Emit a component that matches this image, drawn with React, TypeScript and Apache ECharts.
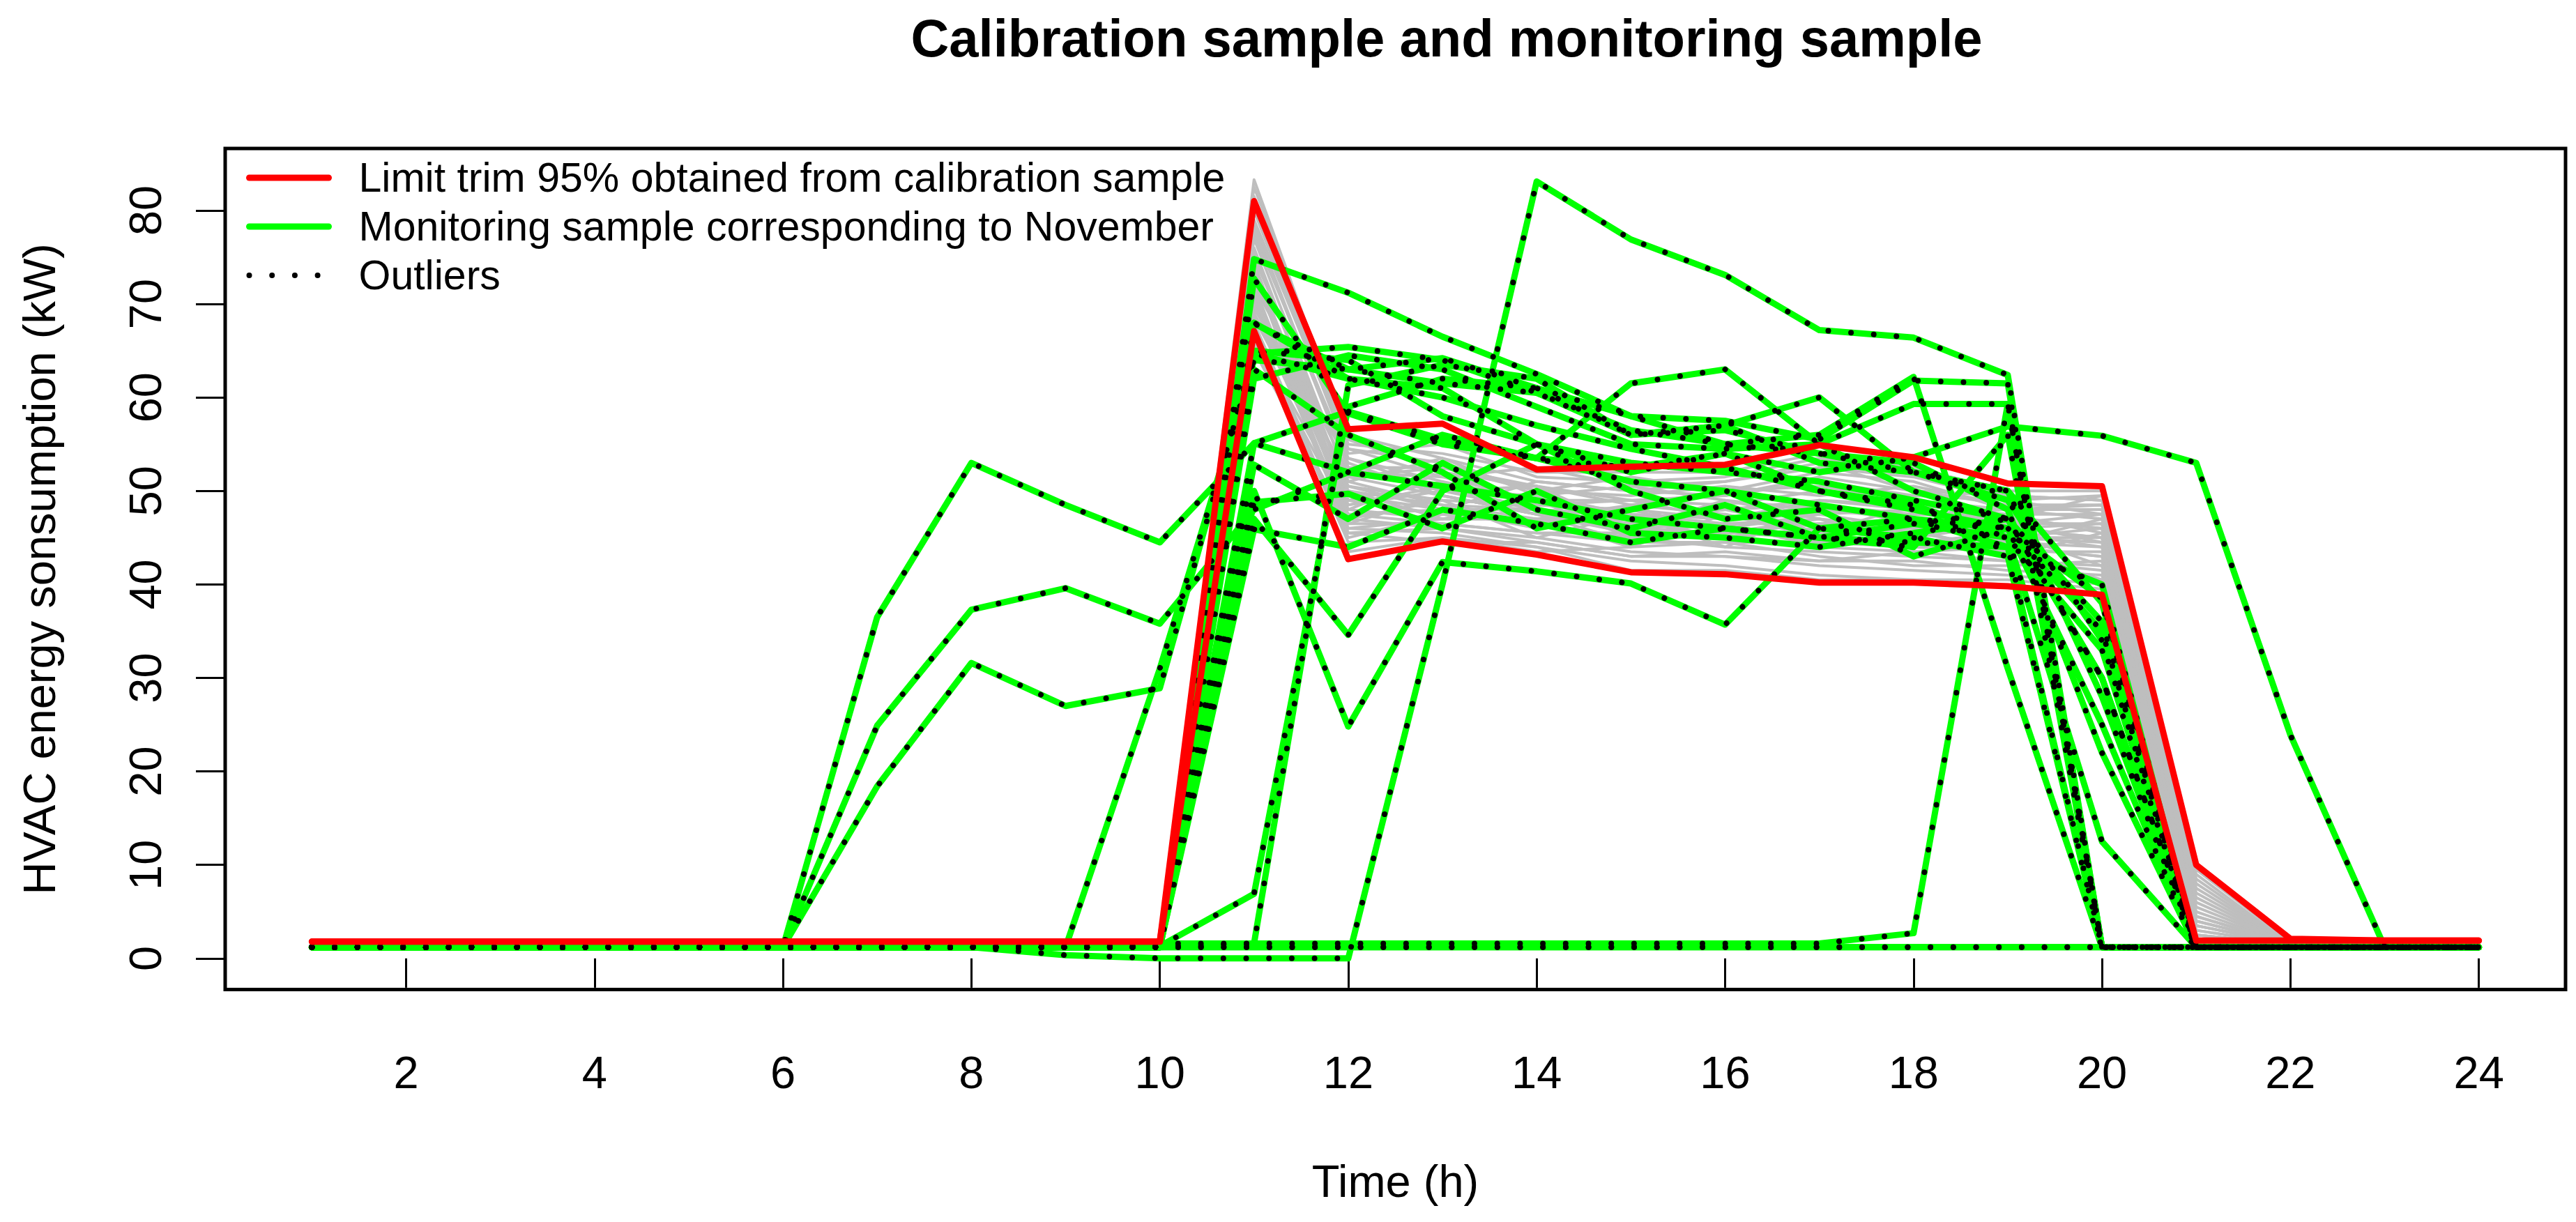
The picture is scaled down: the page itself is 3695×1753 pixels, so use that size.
import React, { useEffect, useRef } from "react";
import * as echarts from "echarts";

// ---------- texts ----------
const titleText = "Calibration sample and monitoring sample";
const xAxisTitle = "Time (h)";
const yAxisTitle = "HVAC energy sonsumption (kW)";
const legendLimit = "Limit trim 95% obtained from calibration sample";
const legendMonitoring = "Monitoring sample corresponding to November";
const legendOutliers = "Outliers";
const calibrationName = "Calibration sample";

// ---------- axes ----------
const hours = [1, 2, 3, 4, 5, 6, 7, 8, 9, 10, 11, 12, 13, 14, 15, 16, 17, 18, 19, 20, 21, 22, 23, 24];
const xTickValues = [2, 4, 6, 8, 10, 12, 14, 16, 18, 20, 22, 24];
const yTickValues = [0, 10, 20, 30, 40, 50, 60, 70, 80];

// ---------- limits (red) ----------
const limitUpper = [1.8, 1.8, 1.8, 1.8, 1.8, 1.8, 1.8, 1.8, 1.8, 1.8, 81.0, 56.6, 57.2, 52.3, 52.6, 52.8, 54.9, 53.6, 50.8, 50.5, 10.0, 2.1, 1.9, 1.9];
const limitLower = [1.8, 1.8, 1.8, 1.8, 1.8, 1.8, 1.8, 1.8, 1.8, 1.8, 67.1, 42.7, 44.6, 43.2, 41.3, 41.1, 40.2, 40.2, 39.8, 38.9, 1.9, 1.9, 1.9, 1.9];

// ---------- calibration sample (gray) ----------
const calib01 = [1.5, 1.5, 1.5, 1.5, 1.5, 1.5, 1.5, 1.5, 1.5, 1.5, 83.3, 55.5, 52.0, 50.5, 49.0, 48.5, 50.0, 49.0, 47.0, 46.0, 3.0, 1.5, 1.5, 1.5];
const calib02 = [1.5, 1.5, 1.5, 1.5, 1.5, 1.5, 1.5, 1.5, 1.5, 1.5, 80.0, 54.0, 55.0, 51.5, 51.0, 51.5, 53.5, 52.0, 49.5, 49.0, 8.5, 1.5, 1.5, 1.5];
const calib03 = [1.5, 1.5, 1.5, 1.5, 1.5, 1.5, 1.5, 1.5, 1.5, 1.5, 78.5, 52.5, 50.0, 48.0, 47.5, 46.5, 47.0, 46.0, 45.0, 44.5, 2.0, 1.5, 1.5, 1.5];
const calib04 = [1.5, 1.5, 1.5, 1.5, 1.5, 1.5, 1.5, 1.5, 1.5, 1.5, 77.0, 51.0, 53.5, 49.5, 50.5, 49.0, 48.0, 47.5, 48.0, 47.0, 5.0, 1.5, 1.5, 1.5];
const calib05 = [1.5, 1.5, 1.5, 1.5, 1.5, 1.5, 1.5, 1.5, 1.5, 1.5, 75.5, 50.0, 48.5, 47.0, 46.0, 45.5, 46.5, 45.5, 44.0, 43.0, 1.5, 1.5, 1.5, 1.5];
const calib06 = [1.5, 1.5, 1.5, 1.5, 1.5, 1.5, 1.5, 1.5, 1.5, 1.5, 74.0, 49.0, 51.0, 46.0, 48.5, 47.5, 45.0, 44.0, 46.0, 45.0, 2.5, 1.5, 1.5, 1.5];
const calib07 = [1.5, 1.5, 1.5, 1.5, 1.5, 1.5, 1.5, 1.5, 1.5, 1.5, 73.0, 48.0, 47.0, 49.0, 45.0, 44.0, 43.5, 43.0, 42.5, 41.5, 1.5, 1.5, 1.5, 1.5];
const calib08 = [1.5, 1.5, 1.5, 1.5, 1.5, 1.5, 1.5, 1.5, 1.5, 1.5, 72.0, 53.0, 49.5, 47.5, 44.5, 46.0, 44.5, 45.0, 43.5, 40.5, 1.8, 1.5, 1.5, 1.5];
const calib09 = [1.5, 1.5, 1.5, 1.5, 1.5, 1.5, 1.5, 1.5, 1.5, 1.5, 71.0, 47.0, 46.0, 45.0, 43.5, 43.0, 42.0, 41.5, 41.0, 40.0, 1.5, 1.5, 1.5, 1.5];
const calib10 = [1.5, 1.5, 1.5, 1.5, 1.5, 1.5, 1.5, 1.5, 1.5, 1.5, 70.5, 46.0, 45.5, 44.0, 42.5, 42.0, 41.0, 40.5, 40.5, 39.5, 1.5, 1.5, 1.5, 1.5];
const calib11 = [1.5, 1.5, 1.5, 1.5, 1.5, 1.5, 1.5, 1.5, 1.5, 1.5, 70.0, 51.5, 52.5, 50.0, 49.5, 50.5, 49.5, 50.5, 48.5, 48.5, 6.5, 1.5, 1.5, 1.5];
const calib12 = [1.5, 1.5, 1.5, 1.5, 1.5, 1.5, 1.5, 1.5, 1.5, 1.5, 69.0, 50.5, 49.0, 48.5, 48.0, 47.0, 47.5, 48.0, 46.5, 46.5, 4.0, 1.5, 1.5, 1.5];
const calib13 = [1.5, 1.5, 1.5, 1.5, 1.5, 1.5, 1.5, 1.5, 1.5, 1.5, 68.0, 45.0, 47.5, 46.5, 47.0, 45.0, 46.0, 44.5, 45.5, 44.0, 2.0, 1.5, 1.5, 1.5];
const calib14 = [1.5, 1.5, 1.5, 1.5, 1.5, 1.5, 1.5, 1.5, 1.5, 1.5, 67.5, 44.5, 45.0, 43.5, 44.0, 44.5, 43.0, 42.0, 42.0, 42.5, 1.5, 1.5, 1.5, 1.5];
const calib15 = [1.5, 1.5, 1.5, 1.5, 1.5, 1.5, 1.5, 1.5, 1.5, 1.5, 66.5, 48.5, 50.5, 48.0, 46.5, 48.0, 48.5, 46.5, 47.5, 45.5, 3.5, 1.5, 1.5, 1.5];
const calib16 = [1.5, 1.5, 1.5, 1.5, 1.5, 1.5, 1.5, 1.5, 1.5, 1.5, 66.0, 47.5, 48.0, 51.0, 50.0, 49.5, 51.0, 49.5, 49.0, 47.5, 7.0, 1.5, 1.5, 1.5];
const calib17 = [1.5, 1.5, 1.5, 1.5, 1.5, 1.5, 1.5, 1.5, 1.5, 1.5, 65.0, 46.5, 46.5, 45.5, 45.5, 46.5, 44.0, 43.5, 44.0, 43.0, 1.5, 1.5, 1.5, 1.5];
const calib18 = [1.5, 1.5, 1.5, 1.5, 1.5, 1.5, 1.5, 1.5, 1.5, 1.5, 72.5, 52.0, 51.5, 49.0, 47.0, 48.0, 46.0, 47.0, 45.0, 46.0, 2.5, 1.5, 1.5, 1.5];
const calib19 = [1.5, 1.5, 1.5, 1.5, 1.5, 1.5, 1.5, 1.5, 1.5, 1.5, 76.0, 49.5, 48.0, 46.0, 48.0, 45.5, 47.0, 45.5, 46.5, 44.5, 2.0, 1.5, 1.5, 1.5];
const calib20 = [1.5, 1.5, 1.5, 1.5, 1.5, 1.5, 1.5, 1.5, 1.5, 1.5, 79.0, 54.5, 53.0, 50.0, 51.5, 50.0, 52.0, 51.0, 48.0, 48.0, 5.5, 1.5, 1.5, 1.5];
const calib21 = [1.5, 1.5, 1.5, 1.5, 1.5, 1.5, 1.5, 1.5, 1.5, 1.5, 68.5, 50.0, 47.0, 47.0, 44.0, 47.5, 45.5, 46.0, 43.0, 45.5, 1.8, 1.5, 1.5, 1.5];
const calib22 = [1.5, 1.5, 1.5, 1.5, 1.5, 1.5, 1.5, 1.5, 1.5, 1.5, 73.5, 45.5, 44.5, 44.5, 43.0, 43.5, 42.5, 42.5, 41.5, 41.0, 1.5, 1.5, 1.5, 1.5];
const calib23 = [1.5, 1.5, 1.5, 1.5, 1.5, 1.5, 1.5, 1.5, 1.5, 1.5, 71.5, 48.0, 52.0, 48.5, 49.0, 47.0, 49.0, 48.0, 47.0, 49.5, 4.5, 1.5, 1.5, 1.5];
const calib24 = [1.5, 1.5, 1.5, 1.5, 1.5, 1.5, 1.5, 1.5, 1.5, 1.5, 69.5, 53.5, 50.0, 50.5, 46.0, 49.0, 47.0, 44.0, 45.5, 42.0, 1.5, 1.5, 1.5, 1.5];
const calib25 = [1.5, 1.5, 1.5, 1.5, 1.5, 1.5, 1.5, 1.5, 1.5, 1.5, 74.5, 47.0, 49.0, 45.0, 47.5, 44.0, 48.0, 47.0, 44.5, 47.0, 3.0, 1.5, 1.5, 1.5];
const calib26 = [1.5, 1.5, 1.5, 1.5, 1.5, 1.5, 1.5, 1.5, 1.5, 1.5, 81.5, 55.0, 54.0, 52.0, 52.0, 52.0, 54.0, 52.5, 50.0, 50.0, 9.5, 1.8, 1.5, 1.5];
const calib27 = [1.5, 1.5, 1.5, 1.5, 1.5, 1.5, 1.5, 1.5, 1.5, 1.5, 66.0, 43.5, 45.0, 44.0, 41.5, 41.5, 40.5, 40.5, 40.0, 39.0, 1.5, 1.5, 1.5, 1.5];
const calib28 = [1.5, 1.5, 1.5, 1.5, 1.5, 1.5, 1.5, 1.5, 1.5, 1.5, 70.0, 46.5, 49.5, 47.5, 45.5, 48.5, 45.5, 48.5, 46.0, 45.0, 2.0, 1.5, 1.5, 1.5];
const calib29 = [1.5, 1.5, 1.5, 1.5, 1.5, 1.5, 1.5, 1.5, 1.5, 1.5, 82.5, 56.0, 53.5, 51.0, 50.0, 51.0, 52.5, 51.5, 49.0, 49.5, 8.0, 1.5, 1.5, 1.5];
const calib30 = [1.5, 1.5, 1.5, 1.5, 1.5, 1.5, 1.5, 1.5, 1.5, 1.5, 77.5, 53.5, 51.0, 49.0, 49.0, 49.5, 51.5, 50.0, 48.5, 48.5, 6.0, 1.5, 1.5, 1.5];
const calib31 = [1.5, 1.5, 1.5, 1.5, 1.5, 1.5, 1.5, 1.5, 1.5, 1.5, 75.0, 51.5, 49.5, 47.5, 47.0, 48.0, 49.0, 48.5, 47.5, 47.5, 4.5, 1.5, 1.5, 1.5];
const calib32 = [1.5, 1.5, 1.5, 1.5, 1.5, 1.5, 1.5, 1.5, 1.5, 1.5, 73.0, 50.5, 48.0, 48.0, 46.5, 46.0, 47.5, 46.0, 46.0, 46.5, 3.5, 1.5, 1.5, 1.5];
const calib33 = [1.5, 1.5, 1.5, 1.5, 1.5, 1.5, 1.5, 1.5, 1.5, 1.5, 71.0, 49.0, 47.5, 46.5, 45.0, 45.5, 45.0, 46.5, 45.0, 45.0, 2.5, 1.5, 1.5, 1.5];
const calib34 = [1.5, 1.5, 1.5, 1.5, 1.5, 1.5, 1.5, 1.5, 1.5, 1.5, 69.0, 47.5, 46.5, 45.5, 44.5, 44.5, 44.5, 44.0, 43.5, 43.5, 2.0, 1.5, 1.5, 1.5];
const calib35 = [1.5, 1.5, 1.5, 1.5, 1.5, 1.5, 1.5, 1.5, 1.5, 1.5, 67.0, 45.5, 46.0, 44.5, 43.0, 43.0, 42.5, 43.5, 42.5, 42.0, 1.5, 1.5, 1.5, 1.5];
const calib36 = [1.5, 1.5, 1.5, 1.5, 1.5, 1.5, 1.5, 1.5, 1.5, 1.5, 78.0, 52.5, 52.5, 50.5, 48.5, 50.0, 50.5, 49.0, 48.0, 48.5, 7.5, 1.5, 1.5, 1.5];
const calib37 = [1.5, 1.5, 1.5, 1.5, 1.5, 1.5, 1.5, 1.5, 1.5, 1.5, 74.0, 48.5, 50.0, 49.5, 47.5, 47.0, 48.5, 47.5, 47.0, 46.0, 3.5, 1.5, 1.5, 1.5];
const calib38 = [1.5, 1.5, 1.5, 1.5, 1.5, 1.5, 1.5, 1.5, 1.5, 1.5, 70.5, 51.0, 48.5, 48.0, 46.0, 46.5, 46.5, 47.0, 44.5, 44.0, 2.0, 1.5, 1.5, 1.5];
const calib39 = [1.5, 1.5, 1.5, 1.5, 1.5, 1.5, 1.5, 1.5, 1.5, 1.5, 72.0, 46.0, 47.0, 47.0, 48.5, 45.0, 46.0, 45.0, 46.5, 47.5, 4.0, 1.5, 1.5, 1.5];
const calib40 = [1.5, 1.5, 1.5, 1.5, 1.5, 1.5, 1.5, 1.5, 1.5, 1.5, 80.5, 54.5, 51.5, 52.5, 50.5, 51.0, 53.0, 50.0, 49.5, 49.0, 9.0, 1.5, 1.5, 1.5];

const calibrationSample = [
  calib01, calib02, calib03, calib04, calib05, calib06, calib07, calib08, calib09, calib10,
  calib11, calib12, calib13, calib14, calib15, calib16, calib17, calib18, calib19, calib20,
  calib21, calib22, calib23, calib24, calib25, calib26, calib27, calib28, calib29, calib30,
  calib31, calib32, calib33, calib34, calib35, calib36, calib37, calib38, calib39, calib40,
];

// ---------- monitoring sample, November (green + dotted outliers) ----------
const novA = [1.2, 1.2, 1.2, 1.2, 1.2, 1.2, 36.5, 53.0, 48.5, 44.5, 55.1, 58.5, 55.5, 53.5, 51.0, 50.0, 48.5, 47.0, 46.0, 25.0, 1.2, 1.2, 1.2, 1.2];
const novB = [1.2, 1.2, 1.2, 1.2, 1.2, 1.2, 24.9, 37.3, 39.6, 35.8, 48.0, 52.0, 50.5, 49.0, 47.0, 46.0, 45.0, 44.5, 44.0, 1.2, 1.2, 1.2, 1.2, 1.2];
const novC = [1.2, 1.2, 1.2, 1.2, 1.2, 1.2, 18.4, 31.6, 27.0, 28.9, 64.7, 62.0, 61.0, 55.0, 52.0, 54.0, 50.0, 48.0, 46.0, 35.0, 1.2, 1.2, 1.2, 1.2];
const novD = [1.2, 1.2, 1.2, 1.2, 1.2, 1.2, 1.2, 1.2, 1.2, 31.0, 64.0, 63.0, 61.5, 60.5, 56.0, 57.0, 53.0, 52.0, 50.0, 38.0, 1.2, 1.2, 1.2, 1.2];
const novE = [1.2, 1.2, 1.2, 1.2, 1.2, 1.2, 1.2, 1.2, 0.35, 0.0, 0.0, 0.0, 40.0, 83.1, 76.9, 73.1, 67.2, 66.4, 62.4, 1.2, 1.2, 1.2, 1.2, 1.2];
const novF = [1.2, 1.2, 1.2, 1.2, 1.2, 1.2, 1.2, 1.2, 1.2, 1.2, 50.0, 24.8, 42.4, 41.4, 40.1, 35.7, 46.0, 45.0, 43.0, 1.2, 1.2, 1.2, 1.2, 1.2];
const novG = [1.2, 1.2, 1.2, 1.2, 1.2, 1.2, 1.2, 1.2, 1.2, 1.2, 47.0, 34.6, 50.0, 55.0, 53.0, 52.0, 51.0, 49.0, 47.0, 36.0, 1.2, 1.2, 1.2, 1.2];
const novH = [1.2, 1.2, 1.2, 1.2, 1.2, 1.2, 1.2, 1.2, 1.2, 1.3, 6.9, 59.0, 62.0, 61.0, 58.0, 55.0, 54.0, 52.0, 50.0, 28.0, 1.2, 1.2, 1.2, 1.2];
const novI = [1.2, 1.2, 1.2, 1.2, 1.2, 1.2, 1.2, 1.2, 1.2, 1.2, 1.6, 61.3, 63.5, 62.0, 56.0, 56.5, 54.0, 53.0, 48.0, 22.0, 1.2, 1.2, 1.2, 1.2];
const novJ = [1.2, 1.2, 1.2, 1.2, 1.2, 1.2, 1.2, 1.2, 1.2, 1.6, 1.6, 1.6, 1.6, 1.6, 1.6, 1.6, 1.6, 2.7, 59.3, 1.2, 1.2, 1.2, 1.2, 1.2];
const novK = [1.2, 1.2, 1.2, 1.2, 1.2, 1.2, 1.2, 1.2, 1.2, 1.2, 74.8, 71.2, 66.5, 62.5, 58.0, 57.5, 55.5, 61.8, 61.5, 1.2, 1.2, 1.2, 1.2, 1.2];
const novL = [1.2, 1.2, 1.2, 1.2, 1.2, 1.2, 1.2, 1.2, 1.2, 1.2, 72.7, 58.3, 55.0, 53.5, 61.5, 63.0, 55.0, 50.0, 47.0, 30.0, 1.2, 1.2, 1.2, 1.2];
const novM = [1.2, 1.2, 1.2, 1.2, 1.2, 1.2, 1.2, 1.2, 1.2, 1.2, 67.9, 63.0, 64.2, 61.0, 56.0, 57.0, 60.0, 52.0, 49.0, 34.0, 1.2, 1.2, 1.2, 1.2];
const novN = [1.2, 1.2, 1.2, 1.2, 1.2, 1.2, 1.2, 1.2, 1.2, 1.2, 64.7, 65.4, 64.0, 60.5, 56.5, 55.0, 56.0, 62.2, 31.0, 1.2, 1.2, 1.2, 1.2, 1.2];
const novO = [1.2, 1.2, 1.2, 1.2, 1.2, 1.2, 1.2, 1.2, 1.2, 1.2, 62.0, 64.5, 63.0, 59.0, 55.0, 54.5, 55.0, 59.3, 59.3, 1.2, 1.2, 1.2, 1.2, 1.2];
const novP = [1.2, 1.2, 1.2, 1.2, 1.2, 1.2, 1.2, 1.2, 1.2, 1.2, 55.1, 52.0, 56.0, 53.5, 52.5, 54.0, 52.0, 53.6, 56.9, 55.9, 53.0, 23.9, 1.2, 1.2];
const novQ = [1.2, 1.2, 1.2, 1.2, 1.2, 1.2, 1.2, 1.2, 1.2, 1.2, 52.8, 47.0, 53.0, 48.0, 46.0, 48.5, 45.0, 46.5, 45.0, 12.5, 1.2, 1.2, 1.2, 1.2];
const novR = [1.2, 1.2, 1.2, 1.2, 1.2, 1.2, 1.2, 1.2, 1.2, 1.2, 48.8, 49.7, 46.0, 50.0, 45.5, 45.0, 44.0, 45.5, 47.0, 30.0, 1.2, 1.2, 1.2, 1.2];
const novS = [1.2, 1.2, 1.2, 1.2, 1.2, 1.2, 1.2, 1.2, 1.2, 1.2, 45.9, 44.0, 48.0, 46.5, 44.5, 46.0, 45.0, 44.0, 56.0, 1.2, 1.2, 1.2, 1.2, 1.2];
const novT = [1.2, 1.2, 1.2, 1.2, 1.2, 1.2, 1.2, 1.2, 1.2, 1.2, 63.0, 56.0, 52.0, 46.0, 48.0, 50.0, 46.0, 47.0, 44.0, 40.0, 1.2, 1.2, 1.2, 1.2];
const novU = [1.2, 1.2, 1.2, 1.2, 1.2, 1.2, 1.2, 1.2, 1.2, 1.2, 65.0, 64.0, 58.0, 55.0, 50.0, 47.0, 48.0, 43.0, 46.0, 38.5, 1.2, 1.2, 1.2, 1.2];
const novV = [1.2, 1.2, 1.2, 1.2, 1.2, 1.2, 1.2, 1.2, 1.2, 1.2, 68.0, 62.0, 60.0, 57.0, 54.5, 52.5, 50.0, 48.5, 45.0, 33.0, 1.2, 1.2, 1.2, 1.2];
const novW1 = [1.2, 1.2, 1.2, 1.2, 1.2, 1.2, 1.2, 1.2, 1.2, 1.2, 1.2, 1.2, 1.2, 1.2, 1.2, 1.2, 1.2, 1.2, 1.2, 1.2, 1.2, 1.2, 1.2, 1.2];
const novW2 = [1.2, 1.2, 1.2, 1.2, 1.2, 1.2, 1.2, 1.2, 1.2, 1.2, 1.2, 1.2, 1.2, 1.2, 1.2, 1.2, 1.2, 1.2, 1.2, 1.2, 1.2, 1.2, 1.2, 1.2];

const monitoringSample = [
  novA, novB, novC, novD, novE, novF, novG, novH, novI, novJ, novK, novL,
  novM, novN, novO, novP, novQ, novR, novS, novT, novU, novV, novW1, novW2,
];

// ---------- styling ----------
const FONT = "'Liberation Sans', Arial, Helvetica, sans-serif";
const RED = "#FF0000";
const GREEN = "#00FF00";
const GRAY = "#BEBEBE";
const BLACK = "#000000";
const DOTS = [0.001, 32.7];

const toPoints = (vals: number[]) => vals.map((v, i) => [hours[i], v]);

function buildOption(): any {
  const series: any[] = [];
  calibrationSample.forEach((vals) => {
    series.push({
      type: "line",
      name: calibrationName,
      data: toPoints(vals),
      symbol: "none",
      silent: true,
      emphasis: { disabled: true },
      lineStyle: { color: GRAY, width: 4, join: "round" },
      z: 2,
    });
  });
  monitoringSample.forEach((vals) => {
    series.push({
      type: "line",
      name: legendMonitoring,
      data: toPoints(vals),
      symbol: "none",
      silent: true,
      emphasis: { disabled: true },
      lineStyle: { color: GREEN, width: 9, join: "round", cap: "round" },
      z: 3,
    });
  });
  monitoringSample.forEach((vals) => {
    series.push({
      type: "line",
      name: legendOutliers,
      data: toPoints(vals),
      symbol: "none",
      silent: true,
      emphasis: { disabled: true },
      lineStyle: { color: BLACK, width: 8, type: DOTS, cap: "round", join: "round" },
      z: 4,
    });
  });
  [limitUpper, limitLower].forEach((vals) => {
    series.push({
      type: "line",
      name: legendLimit,
      data: toPoints(vals),
      symbol: "none",
      silent: true,
      emphasis: { disabled: true },
      lineStyle: { color: RED, width: 9, join: "round", cap: "round" },
      z: 5,
    });
  });

  return {
    animation: false,
    backgroundColor: "#FFFFFF",
    textStyle: { fontFamily: FONT, color: BLACK },
    title: {
      text: titleText,
      left: 2075,
      top: 16,
      textAlign: "center",
      padding: 0,
      textStyle: { fontFamily: FONT, fontSize: 76, fontWeight: "bold", color: BLACK, lineHeight: 76 },
    },
    legend: {
      orient: "vertical",
      left: 353,
      top: 225,
      padding: 0,
      itemWidth: 114,
      itemHeight: 60,
      itemGap: 10,
      selectedMode: false,
      textStyle: { fontFamily: FONT, fontSize: 59, color: BLACK, lineHeight: 60, padding: [0, 0, 0, 38] },
      data: [
        { name: legendLimit, lineStyle: { color: RED, width: 9, type: "solid", cap: "round" }, itemStyle: { opacity: 0 } },
        { name: legendMonitoring, lineStyle: { color: GREEN, width: 9, type: "solid", cap: "round" }, itemStyle: { opacity: 0 } },
        { name: legendOutliers, lineStyle: { color: BLACK, width: 8, type: DOTS, cap: "round" }, itemStyle: { opacity: 0 } },
      ],
    },
    grid: {
      left: 323,
      right: 15,
      top: 213,
      bottom: 333.5,
      show: true,
      borderColor: BLACK,
      borderWidth: 5,
      backgroundColor: "transparent",
      containLabel: false,
      outerBoundsMode: "none",
    },
    xAxis: {
      type: "value",
      min: 0.08,
      max: 24.92,
      name: xAxisTitle,
      nameLocation: "middle",
      nameGap: 242,
      nameTextStyle: { fontFamily: FONT, fontSize: 65, color: BLACK, lineHeight: 65 },
      axisLine: { show: false },
      splitLine: { show: false },
      axisTick: { show: true, length: 42, customValues: xTickValues, lineStyle: { color: BLACK, width: 3 } },
      axisLabel: { show: true, customValues: xTickValues, margin: 86, fontFamily: FONT, fontSize: 65, color: BLACK, lineHeight: 65 },
    },
    yAxis: {
      type: "value",
      min: -3.33,
      max: 86.63,
      name: yAxisTitle,
      nameLocation: "middle",
      nameGap: 234,
      nameRotate: 90,
      nameTextStyle: { fontFamily: FONT, fontSize: 65, color: BLACK, lineHeight: 65 },
      axisLine: { show: false },
      splitLine: { show: false },
      axisTick: { show: true, length: 42, customValues: yTickValues, lineStyle: { color: BLACK, width: 3 } },
      axisLabel: { show: true, rotate: 90, customValues: yTickValues, margin: 82, fontFamily: FONT, fontSize: 65, color: BLACK, lineHeight: 65 },
    },
    series,
  };
}

export default function App() {
  const ref = useRef<HTMLDivElement>(null);
  useEffect(() => {
    document.body.style.margin = "0";
    if (!ref.current) return;
    const chart = echarts.init(ref.current, null, { renderer: "svg" });
    chart.setOption(buildOption());
    return () => {
      chart.dispose();
    };
  }, []);
  return <div ref={ref} style={{ width: 3695, height: 1753 }} />;
}
